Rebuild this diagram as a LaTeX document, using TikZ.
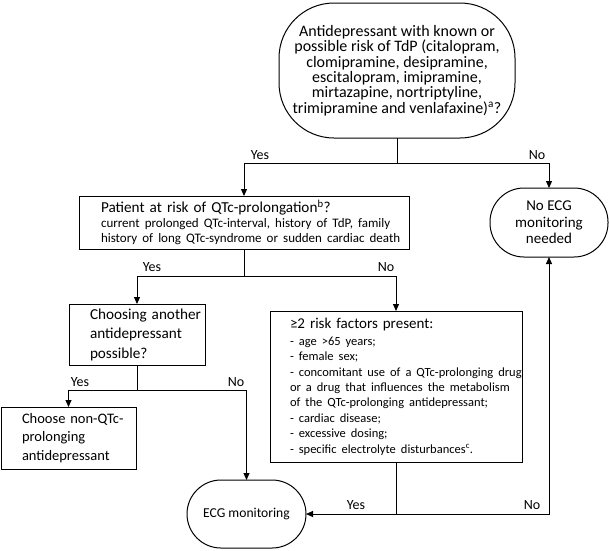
\documentclass[tikz,border=0pt]{standalone}
\usepackage{fontspec}
\setmainfont{Carlito}
\usetikzlibrary{arrows.meta}
\newcommand\bigfs{\fontsize{14}{17}\selectfont}
\newcommand\smf{\fontsize{13}{15}\selectfont}
\newcommand\smg{\fontsize{12.5}{15.4}\selectfont}
\begin{document}
\begin{tikzpicture}[x=1pt,y=-1pt,
  every node/.style={font=\bigfs, inner sep=0pt, outer sep=0pt},
  box/.style={draw, rectangle, align=left, line width=1pt},
  term/.style={draw, rectangle, align=center, line width=1pt},
  lbl/.style={font=\bigfs},
  conn/.style={line width=1pt},
  arr/.style={conn, -{Triangle[length=7pt,width=6pt]}}]
\useasboundingbox (0,0) rectangle (609,550);

% nodes
\node[term, rounded corners=55pt, minimum width=236pt, minimum height=135pt,
      font=\fontsize{16}{17}\selectfont] (top) at (397,70.5)
  {Antidepressant with known or\\[-1.6pt] possible risk of TdP (citalopram,\\[-1.6pt] clomipramine, desipramine,\\[-1.6pt] escitalopram, imipramine,\\[-1.6pt] mirtazapine, nortriptyline,\\[-1.6pt] trimipramine and venlafaxine)\textsuperscript{a}?};

\node[term, rounded corners=34pt, minimum width=118pt, minimum height=69pt,
      font=\fontsize{15}{16.5}\selectfont] (noecg) at (549,222.5)
  {No ECG\\ monitoring\\ needed};

\node[box, text width=330pt, minimum height=53pt, font=\fontsize{15.2}{17}\selectfont] (patient) at (244,222.5)
  {\parindent=0pt\leftskip=22pt Patient at risk of QTc-prolongation\textsuperscript{b}?\par
   {\smf current prolonged QTc-interval, history of TdP, family\\ history of long QTc-syndrome or sudden cardiac death\par}};

\node[box, text width=136pt, minimum height=61pt, font=\fontsize{15.2}{19.5}\selectfont] (choosing) at (137,334.5)
  {\parindent=0pt\leftskip=21pt Choosing another\\ antidepressant\\ possible?\par};

\node[box, text width=135pt, minimum height=62pt, font=\fontsize{14.5}{18.5}\selectfont] (choose) at (68.5,438)
  {\parindent=0pt\leftskip=21pt Choose non-QTc-\\ prolonging\\ antidepressant\par};

\node[box, text width=252pt, minimum height=151pt, font=\fontsize{15}{17}\selectfont] (risk) at (396,386.5)
  {\parindent=0pt\leftskip=20pt ≥2 risk factors present:\par\vskip1.5pt
   {\smg - age >65 years;\\ - female sex;\\ - concomitant use of a QTc-prolonging drug\\ or a drug that influences the metabolism\\ of the QTc-prolonging antidepressant;\\ - cardiac disease;\\ - excessive dosing;\\ - specific electrolyte disturbances\textsuperscript{c}.\par}};

\node[term, rounded corners=34pt, minimum width=119pt, minimum height=68pt,
      font=\fontsize{13.6}{17}\selectfont] (ecg) at (246.5,514)
  {ECG monitoring};

% junctions
\coordinate (j1) at (top.south |- 0,163);
\coordinate (j2) at (patient.south |- 0,276);
\coordinate (j3) at (choosing.south |- 0,390);
\coordinate (j4) at (risk.south |- ecg.east);

% connectors
\draw[conn] (top.south) -- (j1);
\draw[arr] (j1) -| (patient.north);
\draw[arr] (j1) -| (noecg.north);
\draw[conn] (patient.south) -- (j2);
\draw[arr] (j2) -| (choosing.north);
\draw[arr] (j2) -| (risk.north);
\draw[conn] (choosing.south) -- (j3);
\draw[arr] (j3) -| (choose.north);
\draw[arr] (j3) -| (ecg.north);
\draw[conn] (risk.south) -- (j4);
\draw[arr] (j4) -- (ecg.east);
\draw[arr] (j4) -| (noecg.south);

% labels
\node[lbl] (l1) at (260,155) {Yes};
\node[lbl] (l2) at (537,155) {No};
\node[lbl] (l3) at (152,267) {Yes};
\node[lbl] (l4) at (386,267) {No};
\node[lbl] (l5) at (80,382) {Yes};
\node[lbl] (l6) at (236,382) {No};
\node[lbl] (l7) at (356,505) {Yes};
\node[lbl] (l8) at (532,505) {No};
\end{tikzpicture}
\end{document}
